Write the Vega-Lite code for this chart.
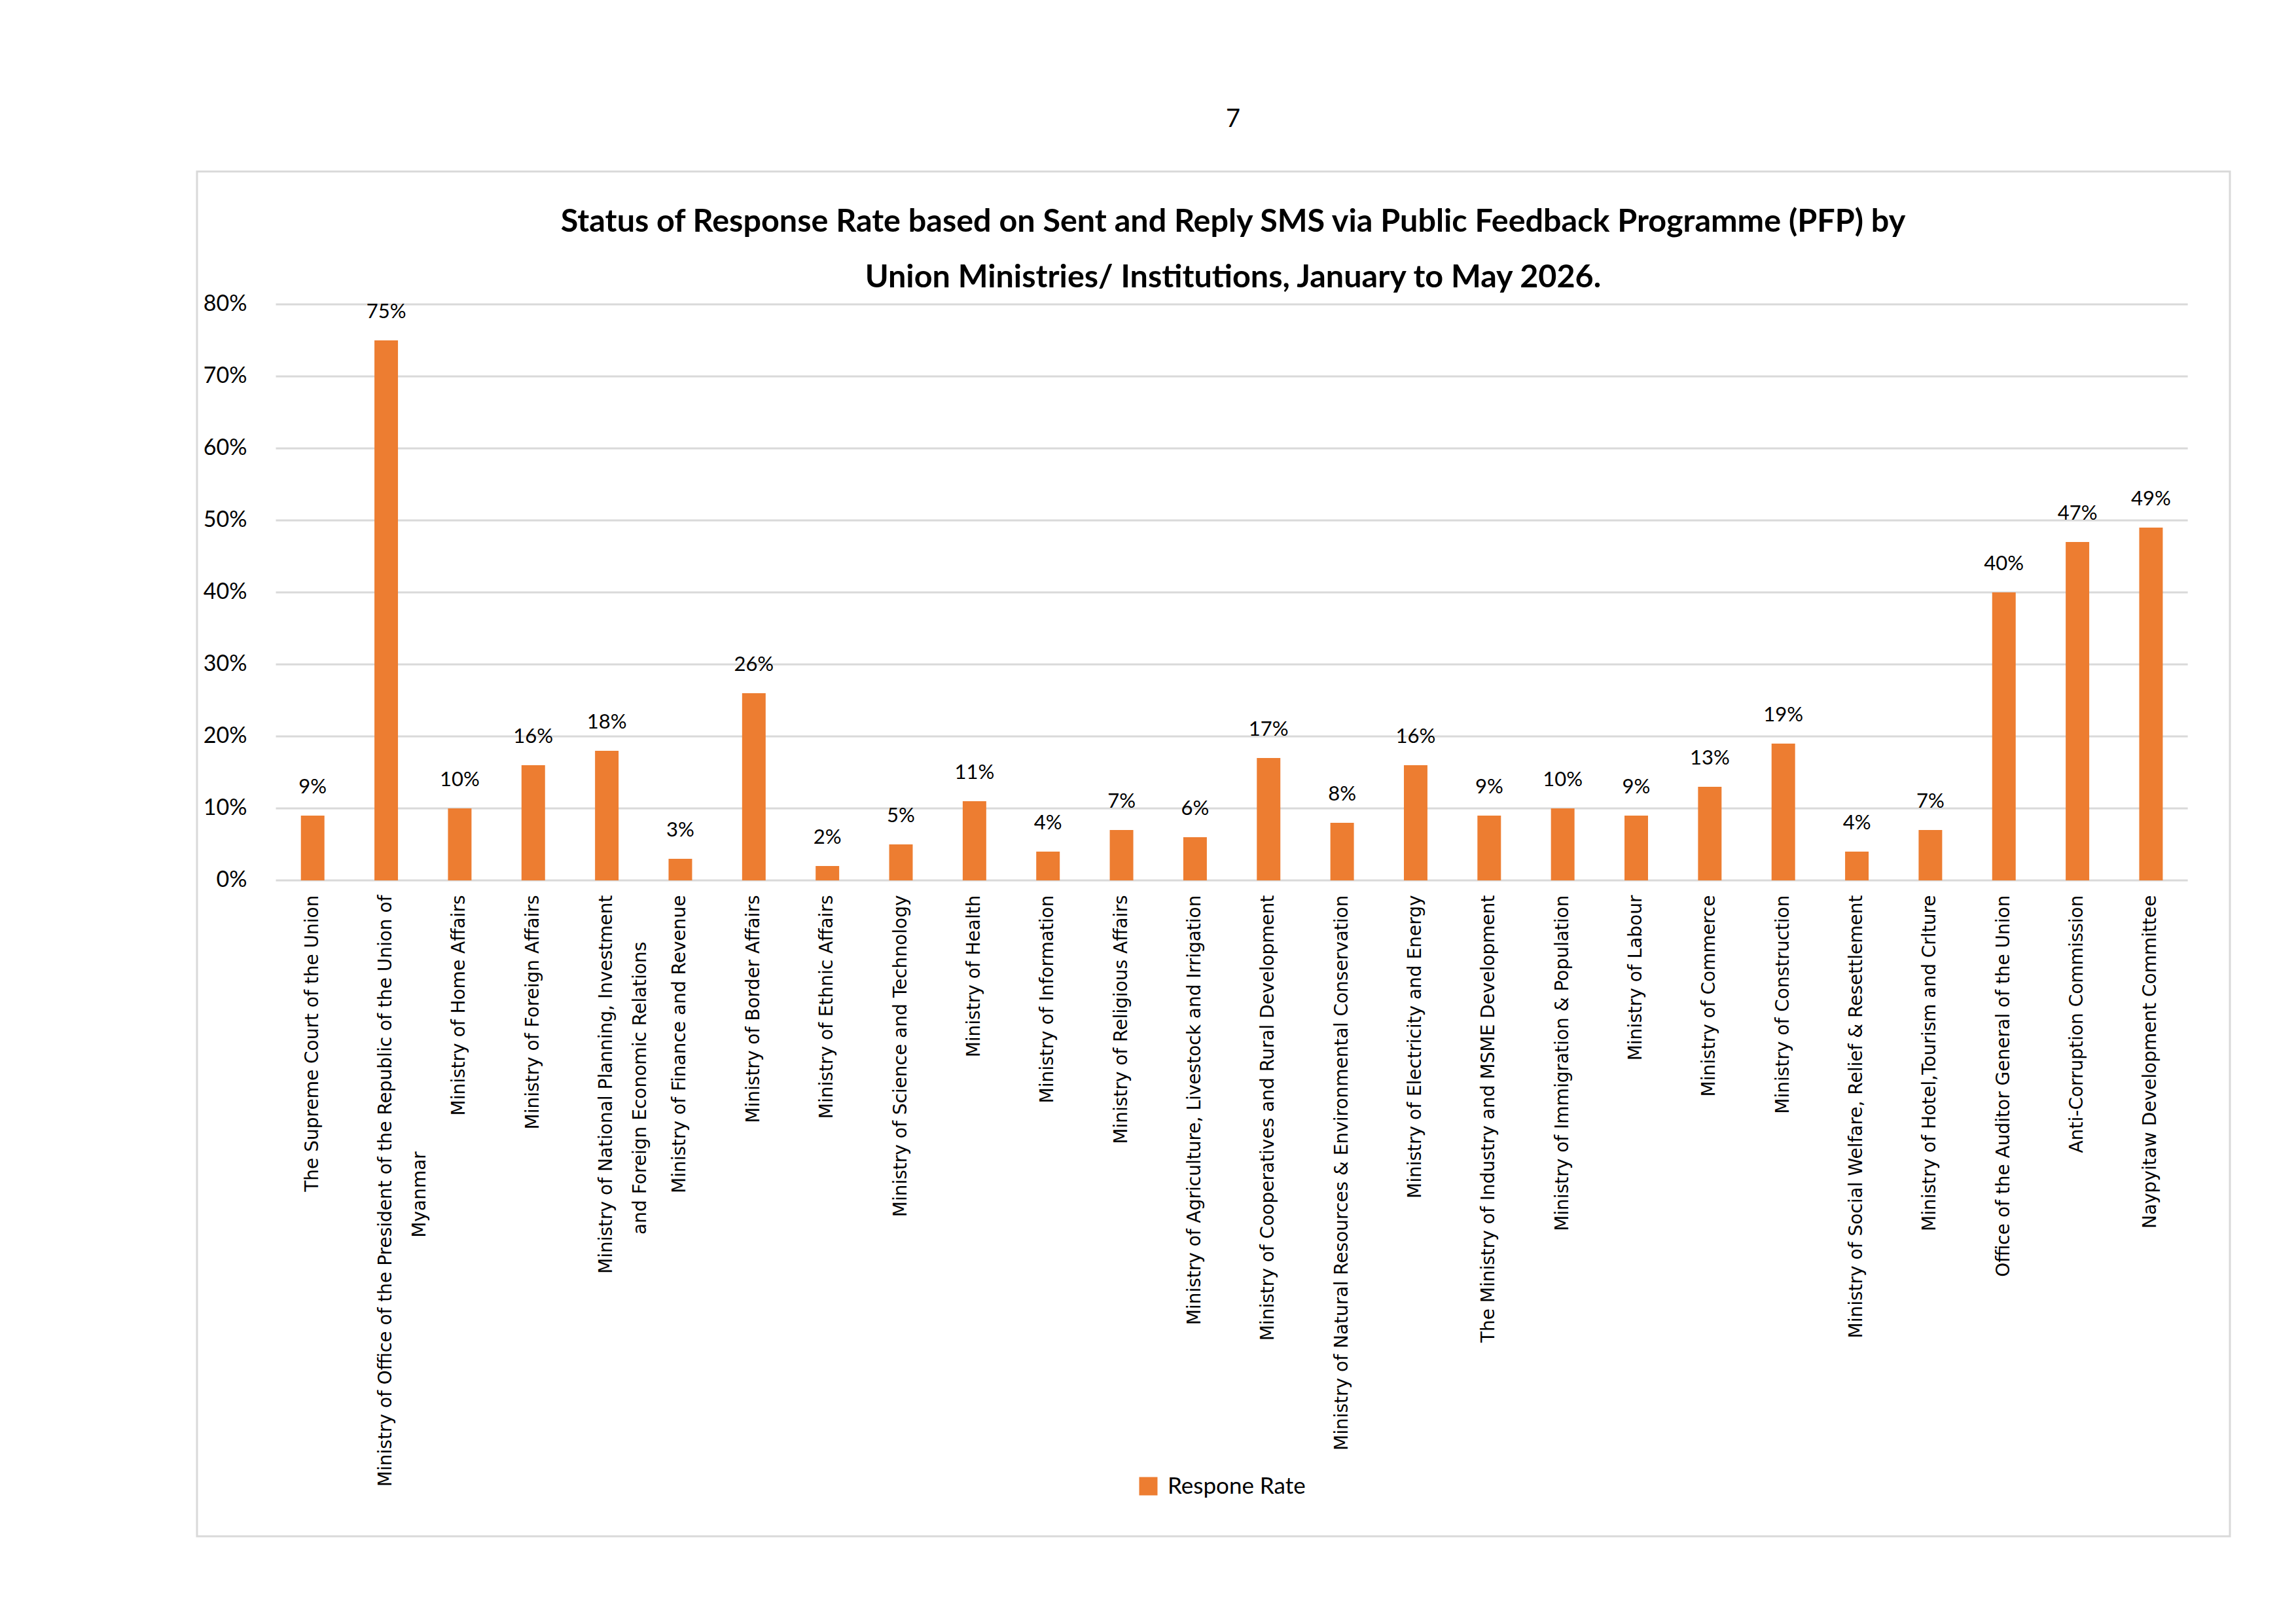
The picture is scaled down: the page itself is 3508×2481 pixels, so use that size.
{
  "$schema": "https://vega.github.io/schema/vega-lite/v6.json",
  "width": 3106,
  "height": 2085,
  "autosize": {"type": "none"},
  "padding": {"left": 301, "top": 262, "right": 101, "bottom": 134},
  "background": "white",
  "title": {
    "text": "7",
    "subtitle": ["Status of Response Rate based on Sent and Reply SMS via Public Feedback Programme (PFP) by", "Union Ministries/ Institutions, January  to May 2026."],
    "anchor": "middle",
    "frame": "group",
    "orient": "top",
    "offset": -186,
    "dx": 30,
    "font": "Lato",
    "fontSize": 38,
    "fontWeight": "normal",
    "color": "#000000",
    "subtitleFont": "Lato",
    "subtitleFontSize": 48.5,
    "subtitleFontWeight": "bold",
    "subtitleColor": "#000000",
    "subtitleLineHeight": 85,
    "subtitlePadding": 114
  },
  "data": {
    "values": [
      {"name": "The Supreme Court of the Union", "rate": 0.09},
      {"name": "Ministry of Office of the President of the Republic of the Union of\nMyanmar", "rate": 0.75},
      {"name": "Ministry of Home Affairs", "rate": 0.10},
      {"name": "Ministry of Foreign Affairs", "rate": 0.16},
      {"name": "Ministry of National Planning, Investment\nand Foreign Economic Relations", "rate": 0.18},
      {"name": "Ministry of Finance and Revenue", "rate": 0.03},
      {"name": "Ministry of Border Affairs", "rate": 0.26},
      {"name": "Ministry of Ethnic Affairs", "rate": 0.02},
      {"name": "Ministry of Science and Technology", "rate": 0.05},
      {"name": "Ministry of Health", "rate": 0.11},
      {"name": "Ministry of Information", "rate": 0.04},
      {"name": "Ministry of Religious Affairs", "rate": 0.07},
      {"name": "Ministry of Agriculture, Livestock and Irrigation", "rate": 0.06},
      {"name": "Ministry of Cooperatives and Rural Development", "rate": 0.17},
      {"name": "Ministry of Natural Resources & Environmental Conservation", "rate": 0.08},
      {"name": "Ministry of Electricity and Energy", "rate": 0.16},
      {"name": "The Ministry of Industry and MSME Development", "rate": 0.09},
      {"name": "Ministry of Immigration & Population", "rate": 0.10},
      {"name": "Ministry of Labour", "rate": 0.09},
      {"name": "Ministry of Commerce", "rate": 0.13},
      {"name": "Ministry of Construction", "rate": 0.19},
      {"name": "Ministry of Social Welfare, Relief & Resettlement", "rate": 0.04},
      {"name": "Ministry of Hotel,Tourism and Crlture", "rate": 0.07},
      {"name": "Office of the Auditor General of the Union", "rate": 0.40},
      {"name": "Anti-Corruption Commission", "rate": 0.47},
      {"name": "Naypyitaw Development Committee", "rate": 0.49}
    ]
  },
  "encoding": {
    "x": {
      "field": "name",
      "type": "nominal",
      "scale": {
        "type": "band",
        "domain": [
          "The Supreme Court of the Union",
          "Ministry of Office of the President of the Republic of the Union of\nMyanmar",
          "Ministry of Home Affairs",
          "Ministry of Foreign Affairs",
          "Ministry of National Planning, Investment\nand Foreign Economic Relations",
          "Ministry of Finance and Revenue",
          "Ministry of Border Affairs",
          "Ministry of Ethnic Affairs",
          "Ministry of Science and Technology",
          "Ministry of Health",
          "Ministry of Information",
          "Ministry of Religious Affairs",
          "Ministry of Agriculture, Livestock and Irrigation",
          "Ministry of Cooperatives and Rural Development",
          "Ministry of Natural Resources & Environmental Conservation",
          "Ministry of Electricity and Energy",
          "The Ministry of Industry and MSME Development",
          "Ministry of Immigration & Population",
          "Ministry of Labour",
          "Ministry of Commerce",
          "Ministry of Construction",
          "Ministry of Social Welfare, Relief & Resettlement",
          "Ministry of Hotel,Tourism and Crlture",
          "Office of the Auditor General of the Union",
          "Anti-Corruption Commission",
          "Naypyitaw Development Committee"
        ],
        "paddingInner": 0.354,
        "paddingOuter": 1,
        "align": 0.625
      },
      "axis": {
        "title": null,
        "orient": "bottom",
        "offset": -1002,
        "domain": false,
        "ticks": false,
        "grid": false,
        "labelAngle": -90,
        "labelAlign": "right",
        "labelBaseline": "middle",
        "labelPadding": 22,
        "labelFont": "DejaVu Sans",
        "labelFontSize": 28,
        "labelColor": "#000000",
        "labelLineHeight": 52,
        "labelLimit": 3000,
        "labelOverlap": false,
        "labelExpr": "length(split(datum.label, '\\n')) > 1 ? [split(datum.label, '\\n')[0], pad(split(datum.label, '\\n')[1], length(split(datum.label, '\\n')[1]) + round((length(split(datum.label, '\\n')[0]) - length(split(datum.label, '\\n')[1])) * 0.74), '\u00a0') + '\u2060'] : datum.label"
      }
    }
  },
  "layer": [
    {
      "data": {"values": [{"g": 0}, {"g": 0.1}, {"g": 0.2}, {"g": 0.3}, {"g": 0.4}, {"g": 0.5}, {"g": 0.6}, {"g": 0.7}, {"g": 0.8}]},
      "mark": {"type": "rule", "color": "#D9D9D9", "strokeWidth": 3, "xOffset": -56.2, "x2Offset": 56.2},
      "encoding": {
        "x": {"datum": "The Supreme Court of the Union"},
        "x2": {"datum": "Naypyitaw Development Committee"},
        "y": {
          "field": "g",
          "type": "quantitative",
          "scale": {"domain": [-0.9109, 0.9845], "nice": false, "zero": false},
          "axis": {
            "title": null,
            "orient": "left",
            "offset": -120,
            "values": [0, 0.1, 0.2, 0.3, 0.4, 0.5, 0.6, 0.7, 0.8],
            "format": ".0%",
            "domain": false,
            "ticks": false,
            "grid": false,
            "labelPadding": 44,
            "labelFont": "Lato",
            "labelFontSize": 34,
            "labelColor": "#000000"
          }
        }
      }
    },
    {
      "mark": {"type": "bar", "color": "#ED7D31", "width": {"band": 0.4955}},
      "encoding": {
        "y": {"field": "rate", "type": "quantitative"},
        "y2": {"datum": 0},
        "color": {
          "datum": "Respone Rate",
          "type": "nominal",
          "scale": {"range": ["#ED7D31"]},
          "legend": {
            "title": null,
            "orient": "none",
            "legendX": 1436,
            "legendY": 1991,
            "padding": 0,
            "symbolType": "square",
            "symbolSize": 784,
            "symbolStrokeWidth": 0,
            "labelFont": "Lato",
            "labelFontSize": 35,
            "labelColor": "#000000",
            "labelOffset": 12,
            "labelLimit": 1000
          }
        }
      }
    },
    {
      "mark": {"type": "text", "font": "Lato", "fontSize": 31, "color": "#000000", "baseline": "alphabetic", "dy": -34},
      "encoding": {
        "y": {"field": "rate", "type": "quantitative"},
        "text": {"field": "rate", "type": "quantitative", "format": ".0%"}
      }
    }
  ],
  "config": {
    "view": {"stroke": "#D9D9D9", "strokeWidth": 3}
  }
}
